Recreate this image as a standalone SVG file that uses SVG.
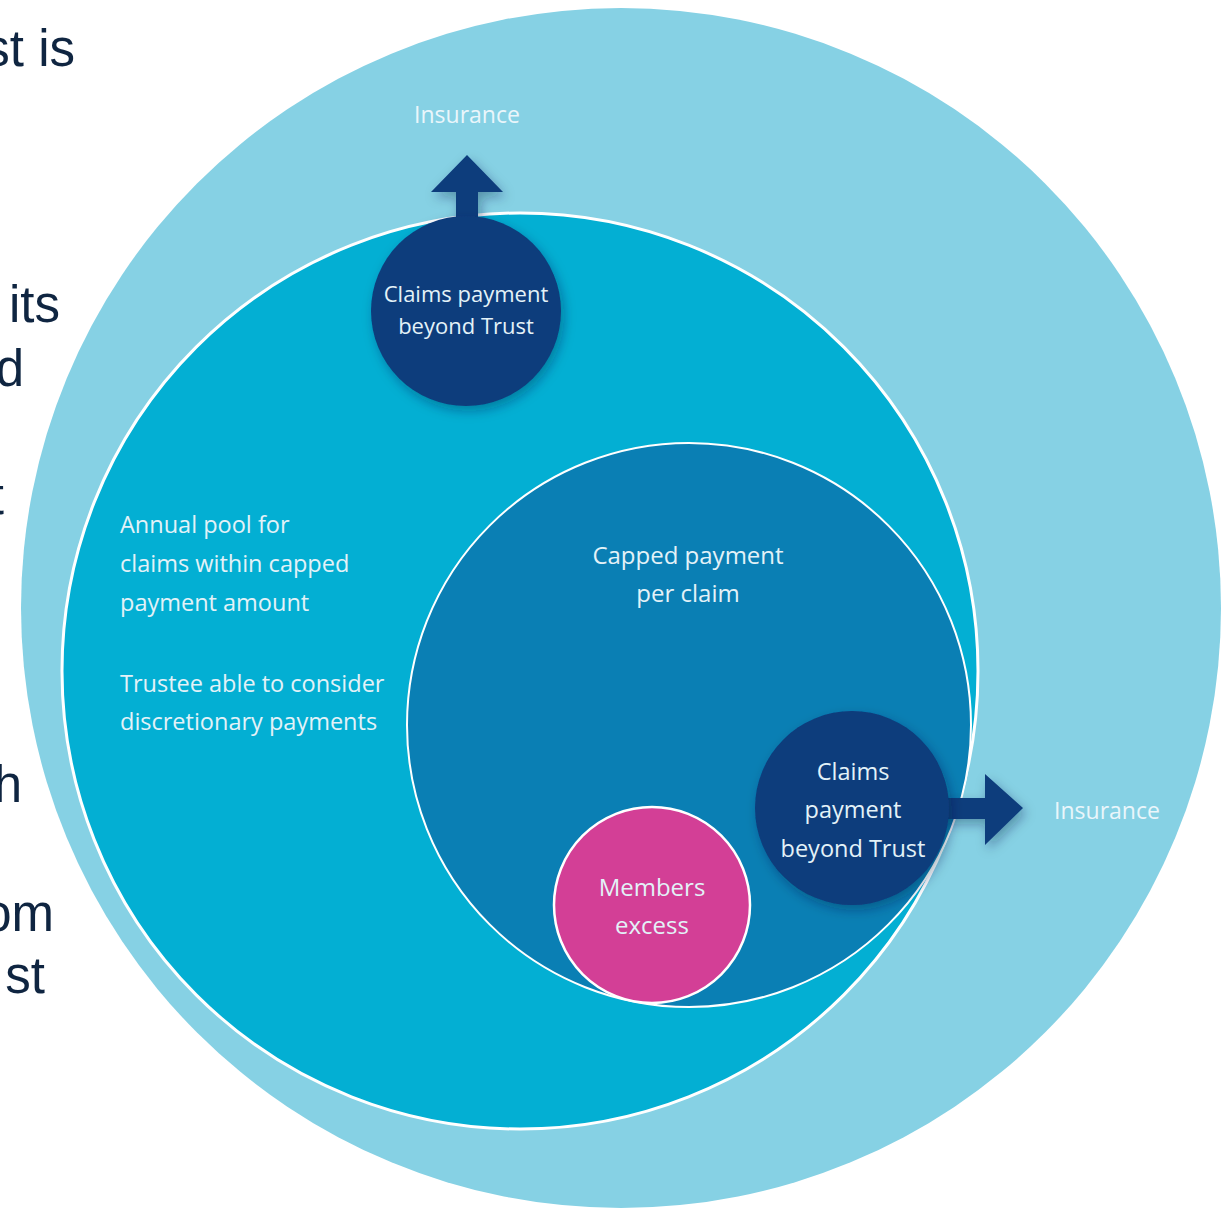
<svg xmlns="http://www.w3.org/2000/svg" width="1225" height="1208" viewBox="0 0 1225 1208">
  <defs>
    <filter id="shadow" x="-30%" y="-30%" width="160%" height="160%">
      <feDropShadow dx="3" dy="5" stdDeviation="6" flood-color="#06243f" flood-opacity="0.35"/>
    </filter>
    <style>
      .side { font-family: "Liberation Sans", Arial, sans-serif; font-size: 51px; fill: #0f2541; text-anchor: end; }
      .lbl { font-family: "Open Sans", "Noto Sans", sans-serif; font-size: 23.5px; fill: #e3f2f8; }
      .mid { text-anchor: middle; }
      .big { font-size: 24px; }
      .small { font-size: 22px; }
      .ins { font-family: "Open Sans", "Noto Sans", sans-serif; font-size: 23px; fill: #eaf6fb; text-anchor: middle; }
      .dark { fill: #0d3c7c; }
    </style>
  </defs>

  <rect width="1225" height="1208" fill="#ffffff"/>

  <!-- clipped body text at the left edge -->
  <g id="side-text">
    <text class="side" x="75" y="66">st is</text>
    <text class="side" x="60" y="322">its</text>
    <text class="side" x="24" y="386">d</text>
    <text class="side" x="4" y="514">t</text>
    <text class="side" x="22" y="802">h</text>
    <text class="side" x="54" y="931">om</text>
    <text class="side" x="45" y="993">st</text>
  </g>

  <!-- outer ring: insurance layer -->
  <g id="outer">
    <circle cx="621" cy="608" r="600" fill="#86d1e4"/>
  </g>

  <!-- annual pool -->
  <g id="pool">
    <circle cx="520" cy="671" r="458" fill="#03afd3" stroke="#ffffff" stroke-width="3"/>
    <text class="lbl" x="120" y="533">Annual pool for</text>
    <text class="lbl" x="120" y="572">claims within capped</text>
    <text class="lbl" x="120" y="611">payment amount</text>
    <text class="lbl" x="120" y="692">Trustee able to consider</text>
    <text class="lbl" x="120" y="730">discretionary payments</text>
  </g>

  <!-- capped payment per claim -->
  <g id="capped">
    <circle cx="689" cy="725" r="282" fill="#0a7fb4" stroke="#ffffff" stroke-width="2"/>
    <text class="lbl big mid" x="688" y="564">Capped payment</text>
    <text class="lbl big mid" x="688" y="602">per claim</text>
  </g>

  <!-- members excess -->
  <g id="excess">
    <circle cx="652" cy="905" r="98" fill="#d33f96" stroke="#ffffff" stroke-width="2.5"/>
    <text class="lbl big mid" x="652" y="896">Members</text>
    <text class="lbl big mid" x="652" y="934">excess</text>
  </g>

  <!-- arrows out to insurance -->
  <g id="connectors" class="dark" filter="url(#shadow)">
    <path d="M456,230 L456,192 L431,192 L467,155 L503,192 L478,192 L478,230 Z"/>
    <path d="M940,798 L985,798 L985,774 L1023,808 L985,845 L985,819 L940,819 Z"/>
  </g>

  <g id="claims-top">
    <circle class="dark" cx="466" cy="311" r="95" filter="url(#shadow)"/>
    <text class="lbl small mid" x="466" y="302">Claims payment</text>
    <text class="lbl small mid" x="466" y="334">beyond Trust</text>
  </g>

  <g id="claims-right">
    <circle class="dark" cx="852" cy="808" r="97" filter="url(#shadow)"/>
    <text class="lbl mid" x="853" y="780">Claims</text>
    <text class="lbl mid" x="853" y="818">payment</text>
    <text class="lbl mid" x="853" y="857">beyond Trust</text>
  </g>

  <g id="insurance-labels">
    <text class="ins" x="467" y="123">Insurance</text>
    <text class="ins" x="1107" y="819">Insurance</text>
  </g>
</svg>
